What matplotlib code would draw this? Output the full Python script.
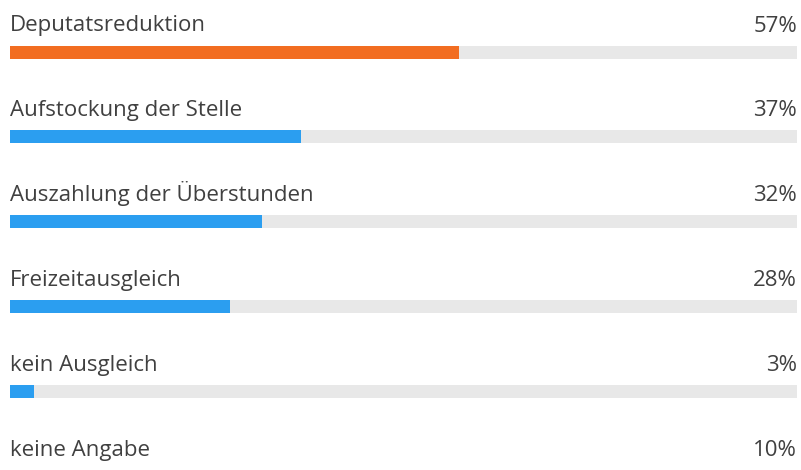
import matplotlib.pyplot as plt

labels = ["Deputatsreduktion", "Aufstockung der Stelle", "Auszahlung der Überstunden",
          "Freizeitausgleich", "kein Ausgleich", "keine Angabe"]
values = [57, 37, 32, 28, 3, 10]
colors = ["#f26d21", "#2b9ef0", "#2b9ef0", "#2b9ef0", "#2b9ef0", "#5fd3e6"]

plt.rcParams['font.family'] = ['Open Sans', 'DejaVu Sans']

fig = plt.figure(figsize=(8.01, 4.70), dpi=100)
ax = fig.add_axes([0, 0, 1, 1])
# x in percent, 0 -> 10px, 100 -> 797px ; y in pixels from the top
scale = 787 / 100
ax.set_xlim(-10 / scale, (801 - 10) / scale)
ax.set_ylim(470, 0)
ax.axis('off')

step = 84.9
for i, (lab, v, c) in enumerate(zip(labels, values, colors)):
    top = 45.5 + step * i
    y = top + 6.5
    ax.barh(y, 100, height=13, left=0, color="#e8e8e8")
    ax.barh(y, v, height=13, left=0, color=c)
    ax.text(0, top - 14, lab, ha='left', va='baseline', fontsize=16, color="#404040")
    ax.text(100, top - 14, f"{v}%", ha='right', va='baseline', fontsize=16, color="#404040")

fig.savefig("out.png", dpi=100)
